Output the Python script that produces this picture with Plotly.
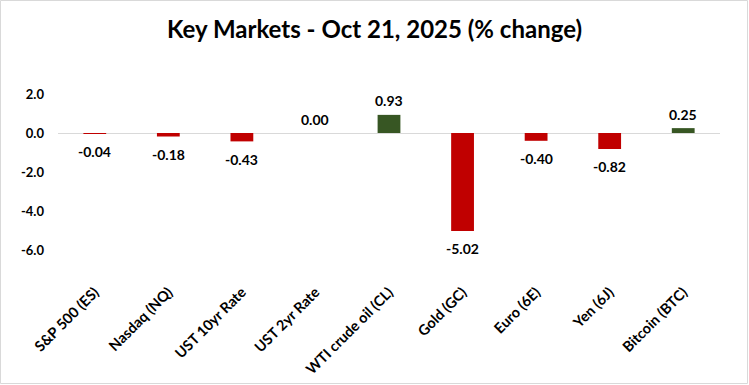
import plotly.graph_objects as go

categories = ["S&P 500 (ES)", "Nasdaq (NQ)", "UST 10yr Rate", "UST 2yr Rate",
              "WTI crude oil (CL)", "Gold (GC)", "Euro (6E)", "Yen (6J)", "Bitcoin (BTC)"]
values = [-0.04, -0.18, -0.43, 0.00, 0.93, -5.02, -0.40, -0.82, 0.25]
tick_vals = [2, 0, -2, -4, -6]
tick_text = ["2.0", "0.0", "-2.0", "-4.0", "-6.0"]
title_text = "Key Markets - Oct 21, 2025 (% change)"

RED = "#C00000"
GREEN = "#375623"
colors = [GREEN if v > 0 else RED for v in values]

W, H = 749, 385
L, R, T, B = 58, 29, 94, 135

fig = go.Figure()
fig.add_trace(go.Bar(
    x=categories, y=values,
    marker=dict(color=colors, line=dict(width=0)),
    width=0.31,
    hoverinfo="skip",
))

for c, v in zip(categories, values):
    fig.add_annotation(
        x=c, y=v, xref="x", yref="y",
        text=f"{v:.2f}", showarrow=False,
        xanchor="center", yanchor="middle",
        yshift=14 if v >= 0 else -18,
        font=dict(family="Lato", size=14, color="#000000", weight="bold"),
    )

pw = W - L - R
ph = H - T - B
fig.add_shape(type="rect", xref="paper", yref="paper",
              x0=-L / pw + 0.5 / pw, x1=1 + (R - 1.5) / pw,
              y0=-B / ph + 1.5 / ph, y1=1 + (T - 0.5) / ph,
              line=dict(color="#D9D9D9", width=1), fillcolor="rgba(0,0,0,0)", layer="below")

fig.update_layout(
    width=W, height=H,
    margin=dict(l=L, r=R, t=T, b=B, pad=0, autoexpand=False),
    paper_bgcolor="white", plot_bgcolor="white",
    showlegend=False,
    title=dict(text=title_text, x=0.5, xref="container", xanchor="center",
               y=1 - 30 / H, yanchor="middle", yref="container",
               font=dict(family="Lato", size=24, color="#000000", weight="bold")),
    bargap=0.69,
)
fig.update_xaxes(
    tickangle=-45, automargin=False,
    tickfont=dict(family="Lato", size=14.5, color="#000000", weight="bold"),
    showline=False, showgrid=False, zeroline=False, ticks="",
    ticklabelstandoff=30,
)
fig.update_yaxes(
    range=[-6, 2], automargin=False,
    tickvals=tick_vals, ticktext=tick_text,
    tickfont=dict(family="Lato", size=13, color="#000000", weight="bold"),
    showgrid=False, showline=False,
    zeroline=True, zerolinecolor="#D9D9D9", zerolinewidth=1,
    ticks="", ticklabelstandoff=13,
)

fig.write_html("out.html", config={"displayModeBar": False},
               post_script="document.body.style.margin='0px';")
